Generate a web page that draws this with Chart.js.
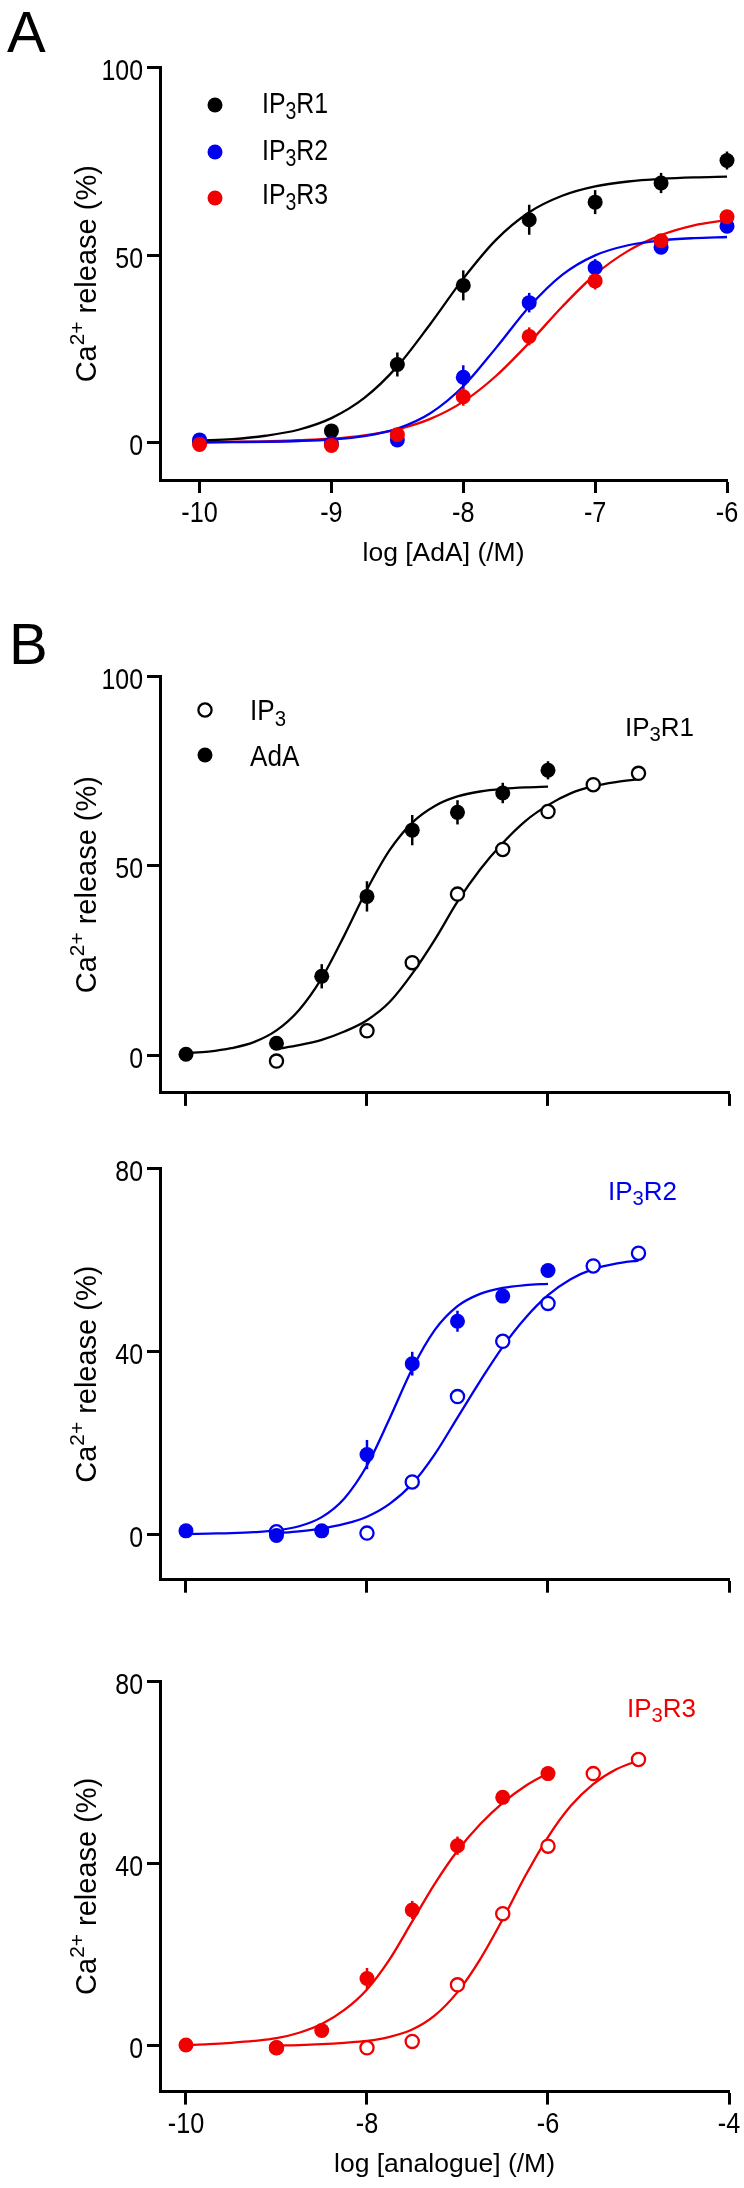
<!DOCTYPE html>
<html>
<head>
<meta charset="utf-8">
<script src="https://cdn.jsdelivr.net/npm/chart.js@4.4.1/dist/chart.umd.min.js"></script>
<style>
  body { margin: 0; background: #fff; }
  #wrap { position: relative; width: 744px; height: 2188px; }
  canvas { position: absolute; left: 0; }
</style>
</head>
<body>
<div id="wrap">
  <canvas id="pA" width="744" height="580" style="top:0px"></canvas>
  <canvas id="pB1" width="744" height="520" style="top:600px"></canvas>
  <canvas id="pB2" width="744" height="480" style="top:1120px"></canvas>
  <canvas id="pB3" width="744" height="568" style="top:1620px"></canvas>
</div>
<script>
// ---- data ----
// concentrations (log M)
const concAdA = [-10, -9, -8.5, -8, -7.5, -7, -6.5, -6];
const concIP3 = [-9, -8, -7.5, -7, -6.5, -6, -5.5, -5];

// AdA responses, panel A (also used in B for R1 and R2)
const adaR1 = [0.2, 3.1, 20.8, 41.9, 59.4, 64.1, 69.2, 75.2];
const adaR1Err = [0, 0, 3.2, 4, 4, 3.2, 2.7, 2.4];
const adaR2 = [0.7, -0.3, 0.7, 17.4, 37.3, 46.6, 52.1, 57.7];
const adaR2Err = [0, 0, 0, 3.2, 2.6, 2.3, 1.5, 1];
const adaR3 = [-0.5, -0.8, 2.1, 12.2, 28.3, 43.1, 53.8, 60.2];
const adaR3Err = [0, 0, 0, 2.4, 2.4, 2.3, 1.2, 1];

// AdA response for IP3R3 as plotted in panel B
const adaR3b = [0.2, -0.4, 3.4, 14.8, 29.8, 43.9, 54.5, 59.7];
const adaR3bErr = [0, 0, 0, 2.3, 2, 2, 1.3, 0.8];

// IP3 responses (panel B, open circles)
const ip3R1 = [-1.6, 6.4, 24.4, 42.5, 54.3, 64.3, 71.4, 74.4];
const ip3R2 = [0.5, 0.2, 11.4, 30.1, 42.2, 50.5, 58.7, 61.5];
const ip3R3 = [-0.4, -0.4, 1.0, 13.4, 29.0, 43.8, 59.7, 62.8];

// fitted curves, read at 0.25 log unit steps
const fitAdAX = [-10, -9.75, -9.5, -9.25, -9, -8.75, -8.5, -8.25, -8, -7.75, -7.5, -7.25, -7, -6.75, -6.5, -6.25, -6];
const fitIP3X = [-9, -8.75, -8.5, -8.25, -8, -7.75, -7.5, -7.25, -7, -6.75, -6.5, -6.25, -6, -5.75, -5.5, -5.25, -5];
const fitAdaR1 = [0.5, 0.9, 1.8, 3.4, 6.5, 11.9, 20.3, 31.6, 43.7, 54.1, 61.4, 65.8, 68.3, 69.6, 70.3, 70.7, 70.9];
const fitAdaR2 = [0.0, 0.1, 0.2, 0.4, 0.8, 1.7, 3.7, 7.8, 15.0, 25.3, 36.2, 44.7, 49.9, 52.6, 53.9, 54.5, 54.8];
const fitAdaR3 = [0.1, 0.2, 0.3, 0.6, 1.0, 1.9, 3.5, 6.3, 10.9, 17.8, 26.6, 36.2, 44.8, 51.1, 55.3, 57.9, 59.3];
const fitAdaR3b = [0.2, 0.4, 0.7, 1.1, 1.7, 2.9, 4.8, 7.9, 12.4, 19, 27.3, 35.6, 42.8, 48.6, 53.3, 57, 59.8];
const fitIp3R1 = [1.6, 2.6, 4.0, 6.2, 9.2, 14, 21.5, 30.5, 40.5, 49, 56, 61.8, 66, 69.1, 71, 72.1, 72.8];
const fitIp3R2 = [0.2, 0.6, 1.2, 2.2, 3.8, 6.6, 11, 17.5, 25.5, 33.5, 41, 47.3, 52.3, 55.8, 58, 59.2, 59.9];
const fitIp3R3 = [0.1, 0.2, 0.4, 0.7, 1.1, 2.0, 3.6, 6.7, 11.8, 19, 27.8, 37.3, 45.8, 52.6, 57.4, 60.6, 62.6];

// axis ticks
const ticksXA = [-10, -9, -8, -7, -6];
const ticksXB = [-10, -8, -6, -4];
const ticksYA = [0, 50, 100];
const ticksYB = [0, 40, 80];

const SANS = "'Liberation Sans', Arial, sans-serif";
const NARROW_SCALE = 0.83;   // labels in the figure use a condensed face
const BLACK = '#000000', BLUE = '#0000f0', RED = '#f00000';

function pts(xs, ys) {
  return xs.map((x, i) => ({ x: x, y: ys[i] }));
}

function curve(xs, ys, color) {
  return {
    data: pts(xs, ys), showLine: true, borderColor: color, borderWidth: 2.3,
    pointRadius: 0, cubicInterpolationMode: 'monotone', clip: false, order: 10
  };
}

function marks(xs, ys, errs, color, open, order) {
  return {
    data: pts(xs, ys), showLine: false,
    pointRadius: open ? 6.6 : 7.5, pointBorderWidth: open ? 2.3 : 0,
    pointBackgroundColor: open ? '#ffffff' : color, pointBorderColor: color,
    errColor: color, errors: errs, clip: false, order: order
  };
}

// text with sub / superscripts: parts = [[text, 0 normal | 1 sub | 2 sup]]
// hs = horizontal squeeze, align = left | center | right
function rich(ctx, x, y, parts, size, color, align, hs) {
  hs = hs || 1;
  const fontOf = k => (k === 1 ? size * 0.78 : k === 2 ? size * 0.72 : size) + 'px ' + SANS;
  let w = 0;
  parts.forEach(([t, k]) => { ctx.font = fontOf(k); w += ctx.measureText(t).width; });
  let x0 = x;
  if (align === 'center') x0 = x - w * hs / 2;
  if (align === 'right') x0 = x - w * hs;
  ctx.save();
  ctx.translate(x0, y);
  ctx.scale(hs, 1);
  ctx.fillStyle = color;
  ctx.textAlign = 'left';
  ctx.textBaseline = 'alphabetic';
  let cx = 0;
  parts.forEach(([t, k]) => {
    ctx.font = fontOf(k);
    const dy = k === 1 ? size * 0.2 : (k === 2 ? -size * 0.42 : 0);
    ctx.fillText(t, cx, dy);
    cx += ctx.measureText(t).width;
  });
  ctx.restore();
}

function dot(ctx, x, y, color, open) {
  ctx.beginPath();
  ctx.arc(x, y, open ? 6.6 : 7.5, 0, Math.PI * 2);
  if (open) {
    ctx.fillStyle = '#fff'; ctx.fill();
    ctx.lineWidth = 2.3; ctx.strokeStyle = color; ctx.stroke();
  } else {
    ctx.fillStyle = color; ctx.fill();
  }
}

const errorBars = {
  id: 'errorBars',
  beforeDatasetsDraw(chart) {
    const ctx = chart.ctx, x = chart.scales.x, y = chart.scales.y;
    ctx.save();
    ctx.lineWidth = 2.5;
    chart.data.datasets.forEach(ds => {
      if (!ds.errors) return;
      ctx.strokeStyle = ds.errColor;
      ds.data.forEach((p, i) => {
        const e = ds.errors[i];
        if (!e) return;
        const px = x.getPixelForValue(p.x);
        ctx.beginPath();
        ctx.moveTo(px, y.getPixelForValue(p.y - e));
        ctx.lineTo(px, y.getPixelForValue(p.y + e));
        ctx.stroke();
      });
    });
    ctx.restore();
  }
};

// axis labels drawn from the chart's own scales
function axisText(ctx, chart, cfg) {
  const xs = chart.scales.x, ys = chart.scales.y, area = chart.chartArea;
  cfg.yTicks.forEach(v => {
    rich(ctx, 143, ys.getPixelForValue(v) + 12.5, [[String(v), 0]], 30, BLACK, 'right', NARROW_SCALE);
  });
  if (cfg.xLabels) {
    cfg.xTicks.forEach(v => {
      rich(ctx, xs.getPixelForValue(v), area.bottom + 41.5, [[String(v), 0]], 29, BLACK, 'center', 0.87);
    });
  }
  if (cfg.xTitle) {
    rich(ctx, (area.left + area.right) / 2, area.bottom + 80.5, [[cfg.xTitle, 0]], 26.5, BLACK, 'center');
  }
  ctx.save();
  ctx.translate(96, (area.top + area.bottom) / 2);
  ctx.rotate(-Math.PI / 2);
  rich(ctx, 0, 0, [['Ca', 0], ['2+', 2], [' release (%)', 0]], 29, BLACK, 'center');
  ctx.restore();
}

function makePanel(id, cfg) {
  const top = cfg.canvasTop;
  const decor = {
    id: 'decor',
    afterDraw(chart) {
      const ctx = chart.ctx;
      ctx.save();
      axisText(ctx, chart, cfg);
      ctx.translate(0, -top);
      cfg.draw(ctx);
      ctx.restore();
    }
  };
  const axisLook = {
    grid: { display: true, drawOnChartArea: false, drawTicks: true, tickLength: 13, tickWidth: 3, color: BLACK },
    border: { display: true, color: BLACK, width: 3 },
    ticks: { display: false }
  };
  return new Chart(document.getElementById(id), {
    type: 'scatter',
    data: { datasets: cfg.datasets },
    options: {
      responsive: false,
      animation: false,
      layout: { padding: { top: cfg.chartTop - top, right: cfg.padRight, left: 0, bottom: 0 } },
      plugins: { legend: { display: false }, tooltip: { enabled: false } },
      scales: {
        x: Object.assign({
          type: 'linear', min: cfg.xMin, max: cfg.xMax,
          afterBuildTicks: s => { s.ticks = cfg.xTicks.map(v => ({ value: v })); },
          afterFit: s => { s.height = cfg.xHeight; s.paddingLeft = 0; s.paddingRight = 0; }
        }, axisLook),
        y: Object.assign({
          type: 'linear', min: cfg.yMin, max: cfg.yMax,
          afterBuildTicks: s => { s.ticks = cfg.yTicks.map(v => ({ value: v })); },
          afterFit: s => { s.width = 160; s.paddingTop = 0; s.paddingBottom = 0; }
        }, axisLook)
      }
    },
    plugins: [errorBars, decor]
  });
}

// ---- panel A ----
makePanel('pA', {
  canvasTop: 0, chartTop: 67.5, padRight: 17, xHeight: 100,
  xMin: -10.3, xMax: -6, xTicks: ticksXA, xLabels: true, xTitle: 'log [AdA] (/M)',
  yMin: -10, yMax: 100, yTicks: ticksYA,
  datasets: [
    curve(fitAdAX, fitAdaR1, BLACK),
    curve(fitAdAX, fitAdaR2, BLUE),
    curve(fitAdAX, fitAdaR3, RED),
    marks(concAdA, adaR1, adaR1Err, BLACK, false, 3),
    marks(concAdA, adaR2, adaR2Err, BLUE, false, 2),
    marks(concAdA, adaR3, adaR3Err, RED, false, 1)
  ],
  draw(ctx) {
    rich(ctx, 7, 52, [['A', 0]], 58, BLACK, 'left');
    const rows = [['R1', BLACK, 105, 113], ['R2', BLUE, 152, 160], ['R3', RED, 198, 204]];
    rows.forEach(r => {
      dot(ctx, 215, r[2], r[1], false);
      rich(ctx, 262, r[3], [['IP', 0], ['3', 1], [r[0], 0]], 30, BLACK, 'left', NARROW_SCALE);
    });
  }
});

// ---- panel B, IP3R1 ----
makePanel('pB1', {
  canvasTop: 600, chartTop: 676.4, padRight: 15, xHeight: 27.1,
  xMin: -10.287, xMax: -4, xTicks: ticksXB, xLabels: false,
  yMin: -10, yMax: 100, yTicks: ticksYA,
  datasets: [
    curve(fitAdAX, fitAdaR1, BLACK),
    curve(fitIP3X, fitIp3R1, BLACK),
    marks(concIP3, ip3R1, null, BLACK, true, 2),
    marks(concAdA, adaR1, adaR1Err, BLACK, false, 1)
  ],
  draw(ctx) {
    rich(ctx, 9, 664, [['B', 0]], 58, BLACK, 'left');
    dot(ctx, 205, 710, BLACK, true);
    dot(ctx, 205, 755, BLACK, false);
    rich(ctx, 250, 720, [['IP', 0], ['3', 1]], 29, BLACK, 'left', 0.9);
    rich(ctx, 250, 766, [['AdA', 0]], 29, BLACK, 'left', 0.9);
    rich(ctx, 625, 736, [['IP', 0], ['3', 1], ['R1', 0]], 26, BLACK, 'left');
  }
});

// ---- panel B, IP3R2 ----
makePanel('pB2', {
  canvasTop: 1120, chartTop: 1168.7, padRight: 15, xHeight: 20.3,
  xMin: -10.287, xMax: -4, xTicks: ticksXB, xLabels: false,
  yMin: -10, yMax: 80, yTicks: ticksYB,
  datasets: [
    curve(fitAdAX, fitAdaR2, BLUE),
    curve(fitIP3X, fitIp3R2, BLUE),
    marks(concIP3, ip3R2, null, BLUE, true, 2),
    marks(concAdA, adaR2, adaR2Err, BLUE, false, 1)
  ],
  draw(ctx) {
    rich(ctx, 608, 1200, [['IP', 0], ['3', 1], ['R2', 0]], 26, BLUE, 'left');
  }
});

// ---- panel B, IP3R3 ----
makePanel('pB3', {
  canvasTop: 1620, chartTop: 1681, padRight: 15, xHeight: 96.4,
  xMin: -10.287, xMax: -4, xTicks: ticksXB, xLabels: true, xTitle: 'log [analogue] (/M)',
  yMin: -10, yMax: 80, yTicks: ticksYB,
  datasets: [
    curve(fitAdAX, fitAdaR3b, RED),
    curve(fitIP3X, fitIp3R3, RED),
    marks(concIP3, ip3R3, null, RED, true, 2),
    marks(concAdA, adaR3b, adaR3bErr, RED, false, 1)
  ],
  draw(ctx) {
    rich(ctx, 627, 1717, [['IP', 0], ['3', 1], ['R3', 0]], 26, RED, 'left');
  }
});
</script>
</body>
</html>
